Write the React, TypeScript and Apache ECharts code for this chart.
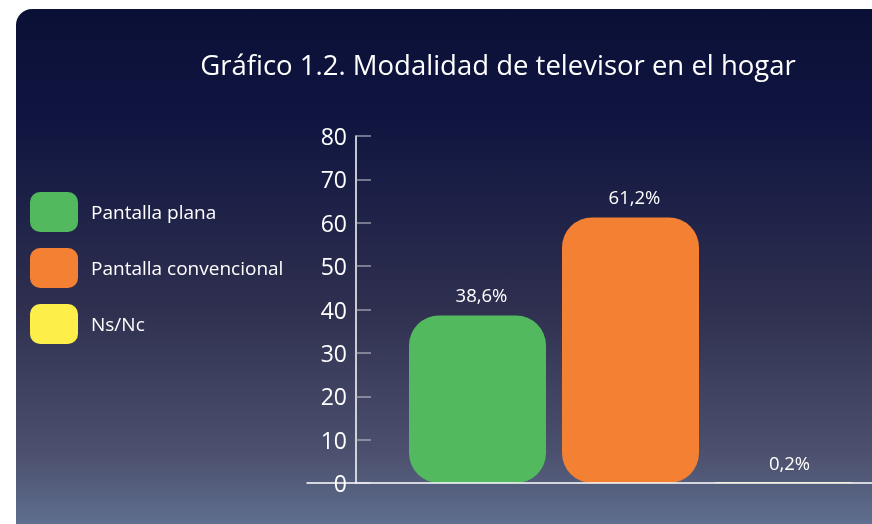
import React, { useEffect, useRef } from "react";
import * as echarts from "echarts";

const categories = ["Pantalla plana", "Pantalla convencional", "Ns/Nc"];
const values = [38.6, 61.2, 0.2];
const labels = ["38,6%", "61,2%", "0,2%"];
const colors = ["#52b95e", "#f38033", "#fdee4a"];
const yTicks = [0, 10, 20, 30, 40, 50, 60, 70, 80];

const FONT = "'Open Sans', 'Noto Sans', sans-serif";

export default function App() {
  const ref = useRef<HTMLDivElement>(null);
  useEffect(() => {
    if (!ref.current) return;
    const chart = echarts.init(ref.current, undefined, { renderer: "svg" });
    const series: any[] = categories.map((name, i) => ({
      name,
      type: "bar",
      xAxisIndex: 0,
      yAxisIndex: 0,
      barWidth: 137,
      barGap: "-100%",
      itemStyle: { color: colors[i], borderRadius: 30 },
      label: {
        show: true,
        position: "top",
        distance: 12,
        color: "#ffffff",
        fontSize: 18.5,
        fontFamily: FONT,
        offset: i === 2 ? [6, 2] : [4, 0],
        formatter: () => labels[i],
      },
      data: categories.map((_, j) => (j === i ? values[i] : "-")),
    }));
    chart.setOption({
      animation: false,
      backgroundColor: "transparent",
      textStyle: { fontFamily: FONT },
      graphic: [
        {
          type: "rect",
          z: -10,
          silent: true,
          shape: { x: 16, y: 9, width: 900, height: 600, r: 16 },
          style: {
            fill: new echarts.graphic.LinearGradient(0, 0, 0, 1, [
              { offset: 0, color: "#0a1035" },
              { offset: 0.18, color: "#0f1540" },
              { offset: 0.5, color: "#2f3050" },
              { offset: 0.75, color: "#4d5270" },
              { offset: 0.87, color: "#617292" },
              { offset: 1, color: "#63809e" },
            ]),
          },
        },
      ],
      title: {
        text: "Gráfico 1.2. Modalidad de televisor en el hogar",
        left: 493,
        textAlign: "center",
        top: 45,
        textStyle: {
          color: "#ffffff",
          fontSize: 27.5,
          fontWeight: "normal",
          fontFamily: FONT,
        },
      },
      legend: {
        orient: "vertical",
        left: 25,
        top: 187,
        itemWidth: 48,
        itemHeight: 40,
        itemGap: 16,
        icon: "roundRect",
        data: categories,
        textStyle: {
          color: "#ffffff",
          fontSize: 19,
          fontFamily: FONT,
          padding: [0, 0, 0, 8],
        },
      },
      grid: [
        { left: 401, right: 12, top: 136, bottom: 41 },
        { left: 307, right: 0, top: 136, bottom: 41 },
      ],
      xAxis: [
        {
          type: "category",
          gridIndex: 0,
          data: categories,
          axisLine: { show: false },
          axisTick: { show: false },
          axisLabel: { show: false },
        },
        {
          type: "value",
          gridIndex: 1,
          min: 0,
          max: 1,
          z: 10,
          axisLine: { show: true, lineStyle: { color: "#ffffff", width: 1.5 } },
          axisTick: { show: false },
          axisLabel: { show: false },
          splitLine: { show: false },
        },
      ],
      yAxis: [
        {
          type: "value",
          gridIndex: 0,
          min: yTicks[0],
          max: yTicks[yTicks.length - 1],
          interval: 10,
          offset: 45,
          axisLine: { show: true, lineStyle: { color: "#ffffff", width: 1.5 } },
          axisTick: {
            show: true,
            inside: true,
            length: 15,
            lineStyle: { color: "rgba(190,190,200,0.75)", width: 1.5 },
          },
          axisLabel: {
            color: "#ffffff",
            fontSize: 23,
            margin: 9,
            fontFamily: FONT,
          },
          splitLine: { show: false },
        },
        {
          type: "value",
          gridIndex: 1,
          show: false,
          min: 0,
          max: 1,
        },
      ],
      series,
    });
    return () => chart.dispose();
  }, []);
  return (
    <div
      ref={ref}
      style={{ position: "fixed", left: 0, top: 0, width: 872, height: 524 }}
    />
  );
}
